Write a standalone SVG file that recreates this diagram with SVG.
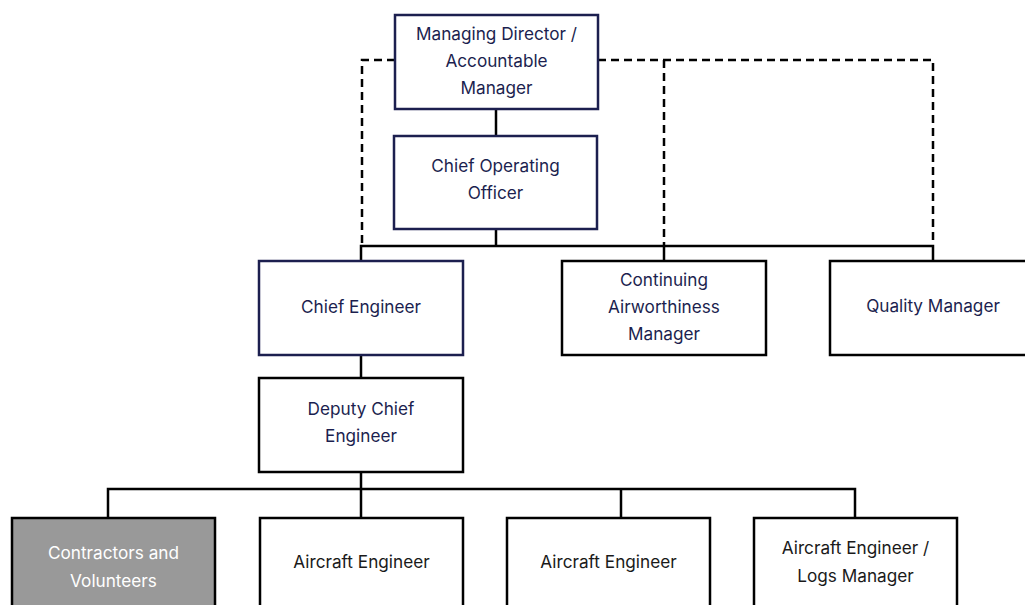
<svg xmlns="http://www.w3.org/2000/svg" width="1025" height="605" viewBox="0 0 1025 605">
<style>
.box{fill:#fff;stroke:#000;stroke-width:2.5}
.nav{stroke:#1c1f4f}
.grey{fill:#999999}
.ln{fill:none;stroke:#000;stroke-width:2.5}
.dash{fill:none;stroke:#000;stroke-width:2.5;stroke-dasharray:8 5}
text{font-family:Inter,"Noto Sans",sans-serif;font-size:17.2px;text-anchor:middle}
.tn{fill:#1c1f4f}
.tb{fill:#1a1a1a}
.tw{fill:#ffffff}
</style>
<rect width="1025" height="605" fill="#fff"/>
<g id="connectors">
<path class="dash" d="M395 60 H362 V245"/>
<path class="dash" d="M598 60 H933 V245"/>
<path class="dash" d="M664 60 V245"/>
<path class="ln" d="M496 109 V136"/>
<path class="ln" d="M496 229 V246"/>
<path class="ln" d="M361 261 V246 H933 V261"/>
<path class="ln" d="M664 246 V261"/>
<path class="ln" d="M361 355 V378"/>
<path class="ln" d="M361 472 V518"/>
<path class="ln" d="M108 518 V489 H855 V518"/>
<path class="ln" d="M621 489 V518"/>
</g>
<g id="md">
<rect class="box nav" x="395" y="15" width="203" height="94"/>
<text class="tn" x="496.5" y="40">Managing Director /</text>
<text class="tn" x="496.5" y="67">Accountable</text>
<text class="tn" x="496.5" y="94">Manager</text>
</g>
<g id="coo">
<rect class="box nav" x="394" y="136" width="203" height="93"/>
<text class="tn" x="495.5" y="172">Chief Operating</text>
<text class="tn" x="495.5" y="199">Officer</text>
</g>
<g id="ce">
<rect class="box nav" x="259" y="261" width="204" height="94"/>
<text class="tn" x="361" y="313">Chief Engineer</text>
</g>
<g id="cam">
<rect class="box" x="562" y="261" width="204" height="94"/>
<text class="tn" x="664" y="286">Continuing</text>
<text class="tn" x="664" y="313">Airworthiness</text>
<text class="tn" x="664" y="340">Manager</text>
</g>
<g id="qm">
<rect class="box" x="830" y="261" width="206" height="94"/>
<text class="tn" x="933" y="312">Quality Manager</text>
</g>
<g id="dce">
<rect class="box" x="259" y="378" width="204" height="94"/>
<text class="tn" x="361" y="415">Deputy Chief</text>
<text class="tn" x="361" y="442">Engineer</text>
</g>
<g id="cv">
<rect class="box grey" x="12" y="518" width="203" height="94"/>
<text class="tw" x="113.5" y="559">Contractors and</text>
<text class="tw" x="113.5" y="587">Volunteers</text>
</g>
<g id="ae1">
<rect class="box" x="260" y="518" width="203" height="94"/>
<text class="tb" x="361.5" y="568">Aircraft Engineer</text>
</g>
<g id="ae2">
<rect class="box" x="507" y="518" width="203" height="94"/>
<text class="tb" x="608.5" y="568">Aircraft Engineer</text>
</g>
<g id="ae3">
<rect class="box" x="754" y="518" width="203" height="94"/>
<text class="tb" x="855.5" y="554">Aircraft Engineer /</text>
<text class="tb" x="855.5" y="582">Logs Manager</text>
</g>
</svg>
